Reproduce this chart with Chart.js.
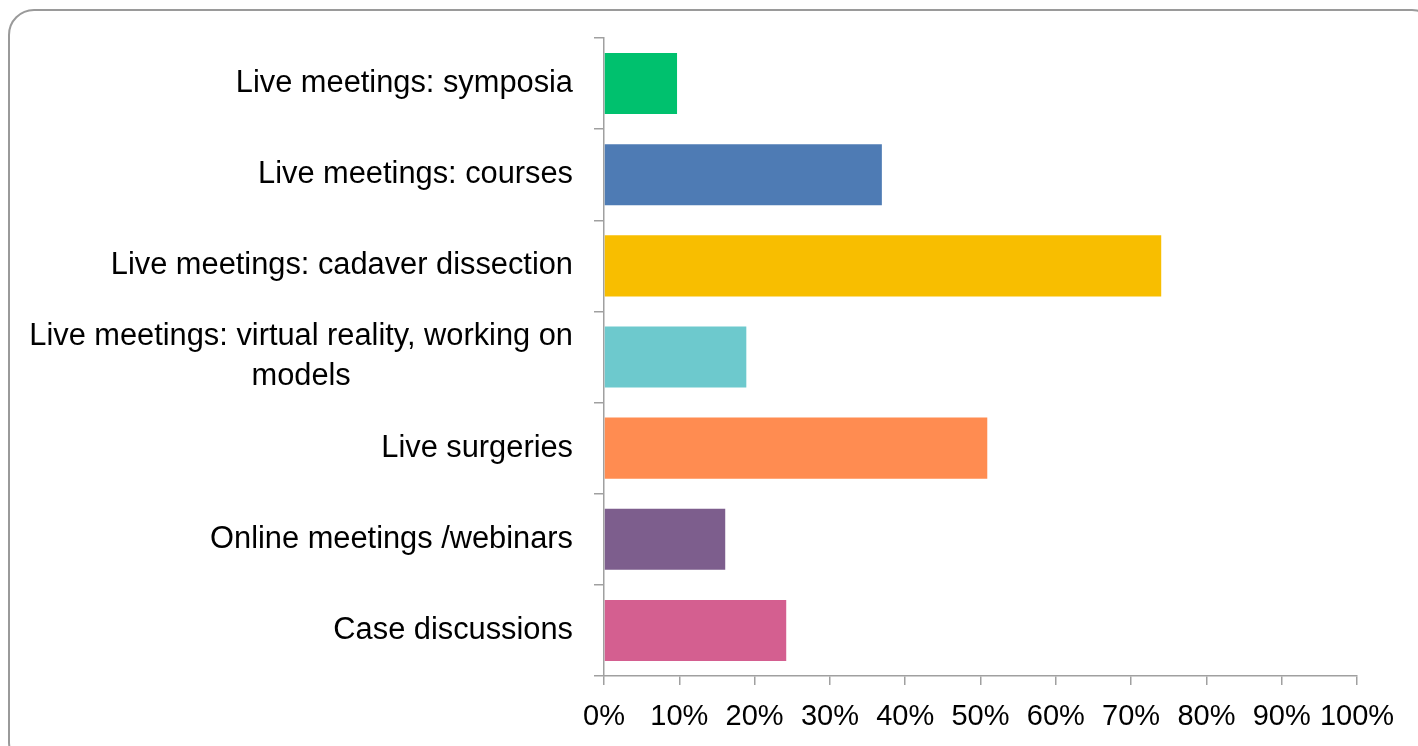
<!DOCTYPE html>
<html>
<head>
<meta charset="utf-8">
<script src="https://cdn.jsdelivr.net/npm/chart.js@4.4.1/dist/chart.umd.min.js"></script>
<style>
  html, body { margin: 0; padding: 0; background: #fff; overflow: hidden; }
  #frame {
    position: absolute; left: 8px; top: 9px; width: 1430px; height: 760px;
    border: 2px solid #9a9a9a; border-radius: 26px; box-sizing: border-box;
  }
  #wrap { position: absolute; left: 0; top: 0; width: 1418px; height: 746px; }
</style>
</head>
<body>
<div id="frame"></div>
<div id="wrap"><canvas id="c"></canvas></div>
<script>
// categories (top to bottom)
const categories = [
  'Live meetings: symposia',
  'Live meetings: courses',
  'Live meetings: cadaver dissection',
  ['Live meetings: virtual reality, working on', 'models'],
  'Live surgeries',
  'Online meetings /webinars',
  'Case discussions',
];
// share of respondents, %
const shares = [9.7, 36.9, 74.0, 18.9, 50.9, 16.1, 24.2];
const barColors = ['#00c16e', '#4e7bb4', '#f8be00', '#6dc9cd', '#ff8c51', '#7d5e8d', '#d45f90'];
const xTicks = [0, 10, 20, 30, 40, 50, 60, 70, 80, 90, 100];

const FONT = '"Liberation Sans", Arial, sans-serif';
const axisGrey = '#a0a0a0';

// y labels: block right-aligned, lines centred inside the block
const yLabelPlugin = {
  id: 'yLabels',
  afterDraw(chart) {
    const ctx = chart.ctx;
    const ys = chart.scales.y;
    const rightEdge = ys.right - 31;
    const lh = 40;
    ctx.save();
    ctx.font = '30.8px ' + FONT;
    ctx.fillStyle = '#000';
    ctx.textBaseline = 'middle';
    ctx.textAlign = 'center';
    categories.forEach((lab, i) => {
      const lines = Array.isArray(lab) ? lab : [lab];
      const w = Math.max(...lines.map(l => ctx.measureText(l).width));
      const cx = rightEdge - w / 2;
      const cy = ys.getPixelForValue(i);
      lines.forEach((l, k) => {
        ctx.fillText(l, cx, cy + (k - (lines.length - 1) / 2) * lh);
      });
    });
    ctx.restore();
  }
};

new Chart(document.getElementById('c'), {
  type: 'bar',
  data: {
    labels: categories,
    datasets: [{ data: shares, backgroundColor: barColors, barPercentage: 0.67, categoryPercentage: 1 }],
  },
  options: {
    indexAxis: 'y',
    responsive: true,
    maintainAspectRatio: false,
    animation: false,
    layout: { padding: { left: 0, right: 61, top: 38, bottom: 0 } },
    plugins: { legend: { display: false }, tooltip: { enabled: false } },
    scales: {
      x: {
        min: 0, max: 100,
        afterBuildTicks: s => { s.ticks = xTicks.map(v => ({ value: v })); },
        afterFit: s => { s.height = 70; },
        border: { color: axisGrey, width: 1.5 },
        grid: { drawOnChartArea: false, drawTicks: true, tickLength: 9, color: axisGrey, lineWidth: 1.5 },
        ticks: { color: '#000', padding: 15, font: { family: FONT, size: 29 }, callback: v => v + '%', maxRotation: 0, autoSkip: false },
      },
      y: {
        afterFit: s => { s.width = 604; },
        border: { color: axisGrey, width: 1.5 },
        grid: { drawOnChartArea: false, drawTicks: true, tickLength: 10, color: axisGrey, lineWidth: 1.5 },
        ticks: { display: false },
      },
    },
  },
  plugins: [yLabelPlugin],
});
</script>
</body>
</html>
